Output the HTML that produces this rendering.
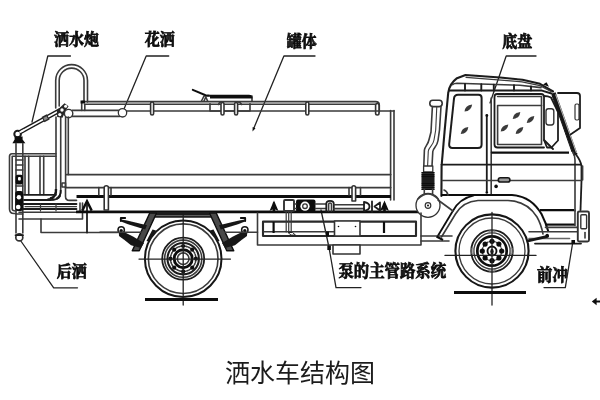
<!DOCTYPE html>
<html lang="zh">
<head>
<meta charset="utf-8">
<title>洒水车结构图</title>
<style>
html,body{margin:0;padding:0;background:#fff;}
body{width:600px;height:400px;overflow:hidden;position:relative;}
svg{position:absolute;left:0;top:0;display:block;}
.lbl{font-family:"Liberation Serif","Noto Serif CJK SC",serif;font-weight:bold;font-size:15px;fill:#111;stroke:#111;stroke-width:0.75px;transform-box:fill-box;transform-origin:50% 100%;transform:scaleY(1.08);}
.cap{font-family:"Liberation Sans","Noto Sans CJK SC",sans-serif;font-weight:400;font-size:25px;fill:#1a1a1a;}
.t{fill:none;stroke:#3a3a3a;stroke-width:1.6;stroke-linecap:round;stroke-linejoin:round;}
.m{fill:none;stroke:#1c1c1c;stroke-width:1.8;stroke-linecap:round;stroke-linejoin:round;}
.k{fill:none;stroke:#111;stroke-width:2.6;stroke-linecap:butt;stroke-linejoin:round;}
.w{fill:#fff;stroke:#333;stroke-width:1.6;stroke-linejoin:round;}
.b{fill:#111;stroke:none;}
.ld{fill:none;stroke:#222;stroke-width:1.3;stroke-linecap:round;stroke-linejoin:round;}
</style>
</head>
<body>
<svg width="600" height="400" viewBox="0 0 600 400">
<defs><filter id="soft" x="0" y="0" width="600" height="400" filterUnits="userSpaceOnUse"><feGaussianBlur stdDeviation="0.45"/></filter><filter id="soft2" x="0" y="0" width="600" height="400" filterUnits="userSpaceOnUse"><feGaussianBlur stdDeviation="0.3"/></filter></defs>
<rect x="0" y="0" width="600" height="400" fill="#fff"/>

<!-- ===== LABELS ===== -->
<g id="labels" filter="url(#soft2)">
<text class="lbl" x="54" y="45.4">洒水炮</text>
<text class="lbl" x="144.7" y="45.4">花洒</text>
<text class="lbl" x="286.8" y="47.3">罐体</text>
<text class="lbl" x="502.3" y="47.3">底盘</text>
<text class="lbl" x="56.8" y="277.3">后洒</text>
<text class="lbl" x="338.4" y="277.5" style="font-size:15.4px">泵的主管路系统</text>
<text class="lbl" x="537" y="281.2" style="font-size:15.4px;transform:scaleY(1.1)">前冲</text>
<text class="cap" x="225" y="382">洒水车结构图</text>
</g>

<!-- ===== LEADERS ===== -->
<g id="leaders" class="ld" filter="url(#soft)">
<path d="M70.5,56 H47.8 L32,122"/>
<path d="M168.7,56 H146.2 L124,109"/>
<path d="M315,56 H283.9 L253.5,129"/>
<path d="M536,56 H506.2 L490,103"/>
<path d="M20.5,240.5 L53.7,287.8 H77.5"/>
<path d="M321,210 L329,247.5 L336,287.6 H361"/>
<path d="M572.5,244 L565.3,287.6 H544"/>
<path d="M595,301.5 H600" style="stroke-width:2;stroke:#111"/><path d="M591.8,301.5 L596.6,297.8 V305.2 Z" style="fill:#111;stroke:none"/>
</g>
<path class="b" d="M252.5,131.5 l0.2,-4.5 l2.8,1.2 z"/>

<!-- TRUCK -->
<g id="truck" filter="url(#soft)">
<!-- ===== REAR EQUIPMENT ===== -->
<g id="rear">
<!-- U pipe -->
<path class="t" d="M55.7,108 V80.5 A15.9,15.9 0 0 1 87.5,80.5 V102"/>
<path class="t" d="M59.2,106 V80.5 A12.4,12.4 0 0 1 84,80.5 V102"/>
<!-- vertical pipe behind tank -->
<path class="t" d="M56,117 V190 Q56,199 48,199"/>
<path class="t" d="M60.7,117 V192 Q60.7,196 57,198"/>
<path d="M56,189 Q56.5,197.5 50,198.5" fill="none" stroke="#151515" stroke-width="2.4"/>
<path d="M60.7,190 Q61,196 56.5,199" fill="none" stroke="#151515" stroke-width="1.8"/>
<!-- cannon barrel -->
<path d="M18.5,133 L60.5,110" stroke="#1a1a1a" stroke-width="4.4" stroke-linecap="round" fill="none"/>
<path d="M20,132.2 L60,110.3" stroke="#fff" stroke-width="1.7" stroke-linecap="butt" fill="none"/>
<path d="M43,119.7 l5.2,-2.85" stroke="#2a2a2a" stroke-width="6" fill="none"/>
<path d="M44,119.2 l3.2,-1.75" stroke="#8a8a8a" stroke-width="2.8" fill="none"/>
<path d="M56.8,110.5 L64.5,103.2 L68.6,106.2 L66,110 L62.5,117.8 L57.2,117 Z" fill="#262626"/>
<circle cx="62" cy="110" r="1.7" fill="#fff"/>
<circle cx="59.8" cy="114.6" r="1.6" fill="#fff"/>
<circle cx="65.6" cy="106.2" r="1.5" fill="#fff"/>
<circle class="w" cx="68.6" cy="113.6" r="4.2" style="stroke-width:1.4"/>
<circle cx="17.6" cy="134" r="3.3" fill="#fff" stroke="#1a1a1a" stroke-width="2"/>
<path d="M19.5,132.5 L24,130" stroke="#fff" stroke-width="1.7" fill="none"/>
<!-- cone & post -->
<path class="b" d="M14.6,136.6 H22.6 V139.4 L25.4,143.3 H12.4 L14.6,139.4 Z"/>
<path class="t" d="M16,143.5 V233 M22.8,143.5 V233"/>
<circle class="w" cx="19.3" cy="237.4" r="3.5" style="stroke-width:1.7"/>
<path class="m" d="M15.6,235.2 H23"/>
<!-- fittings on post -->
<rect class="b" x="15.6" y="174.7" width="7.4" height="9.8" rx="2"/>
<rect x="18" y="177" width="2.8" height="3.4" rx="1" fill="#fff"/>
<rect class="b" x="15.2" y="191" width="8" height="20" rx="2.5"/>
<circle cx="18.9" cy="197.2" r="2.2" fill="#fff"/>
<circle cx="18.2" cy="207" r="2.3" fill="#fff"/>
<path class="t" d="M16,160 h6.8 M16,165 h6.8 M16,170 h6.8 M16,186 h6.8 M16,214 h6.8"/>
<!-- rail box -->
<path class="t" d="M56,153.7 H12 Q9.5,153.7 9.5,156.5 V209 Q9.5,213.5 14,213.5 H16"/>
<path class="t" d="M56,156.2 H12.2 V209 Q12.2,211 16,211"/>
<path class="t" d="M25,156.2 V194.5 M28.7,156.2 V194.5 M40,156.2 V194.5 M43.7,156.2 V194.5"/>
<!-- horizontal pipes -->
<path class="m" d="M24,194.8 H56 M24,200 H50 Q58,200 60,196"/>
<path class="m" d="M23,204 H76.5 M23,209 H76.5"/><path class="t" style="stroke-width:1.2" d="M25,206.6 H76.5 M40.5,204 V211 M56,204 V211"/>
<path class="t" d="M19,212.2 H80 V203 M19,219 H82.5 V203"/>
<path class="t" d="M41,219 V232.5 H117.5"/>
<!-- arrow -->
<path class="m" d="M87,232.5 V203"/>
<path d="M82.3,210.6 L87,201.2 L91.7,210.6" fill="none" stroke="#111" stroke-width="2.4" stroke-linejoin="miter"/>
</g>

<!-- ===== TANK ===== -->
<g id="tank">
<!-- top pipe -->
<path class="t" d="M82,101.6 H375.5 Q379.3,101.6 379.3,105 V112"/>
<rect class="w" x="375.6" y="103.5" width="3.4" height="11.5" rx="1.7"/>
<path class="t" d="M84.5,104.3 H375.6"/>
<path class="t" d="M81.7,110.5 V103.5 Q81.7,101.6 84,101.6 M84.8,104.6 V110.5"/>
<path class="b" d="M80.5,100.5 h4.5 v3 h-4.5z"/>
<!-- pipe joint to spray circle -->
<path class="t" d="M72,110.4 H118.5 M72,116.4 H119.5"/>
<!-- tank top line -->
<path class="t" d="M126.5,111 H394"/>
<circle class="w" cx="122.5" cy="112.8" r="4.2" style="stroke-width:1.3"/>
<!-- clips -->
<rect class="w" x="150.6" y="102" width="3" height="13" rx="1.5"/>
<rect class="w" x="305.8" y="102" width="3" height="13" rx="1.5"/>
<!-- left edge -->
<path class="t" d="M65.6,117 V187 M68.3,117 V174.6"/>
<!-- right edge -->
<path class="t" d="M390.6,110.6 V200 M394,110.6 V200"/>
<!-- bands -->
<path class="t" style="stroke-width:1.8" d="M66.5,174.6 H390.6"/>
<path class="t" style="stroke-width:1.8" d="M65.5,187.6 H390.6"/>
<path class="k" d="M76.5,196.6 H391" style="stroke-width:3"/>
<path class="t" d="M65.5,187 V196.5 Q65.5,200.4 69.5,200.4 H76.5"/>
<path class="t" d="M62,183 h3.5 v4 h-3.5z"/>
<path class="k" d="M76,211.9 H421" style="stroke-width:2.8"/>
<!-- steps / clamps -->
<path class="t" d="M98.8,187.6 V195 M111,187.6 V195"/>
<path class="w" d="M104.2,210 V187.5 Q104.2,185.8 106.3,185.8 Q108.4,185.8 108.4,187.5 V210 Z"/>
<path class="t" d="M349,187.6 V195 M360.5,187.6 V195"/>
<path class="w" d="M352,201 V187.5 Q352,185.8 353.8,185.8 Q355.6,185.8 355.6,187.5 V201 Z"/>
<!-- manhole -->
<path class="t" d="M210,103.8 V111 H250 V103.8"/>
<path class="t" d="M201.5,101 L204,96 H252 V101"/>
<path class="b" d="M210,94.8 H249 Q252.5,95 252.5,98.6 H210 Z"/>
<path d="M192.8,89.8 L205.5,95.2 L209,95.5" stroke="#111" stroke-width="2" fill="none" stroke-linecap="round"/>
<path class="t" d="M204,101 l1.8,-4 l1.8,4"/>
<rect class="w" x="221" y="102.5" width="3" height="12.5" rx="1.5"/>
<rect class="w" x="234.6" y="102.5" width="3" height="12.5" rx="1.5"/>
<path class="t" d="M218.5,104.5 q1,-3 3,-2.5 M238,102 q2.5,0 3.5,2.5"/>
</g>
<!-- ===== EXHAUST ===== -->
<g id="exhaust">
<rect class="w" x="429.8" y="100.2" width="12.4" height="6.4" rx="3" style="stroke-width:1.6"/>
<path class="t" d="M432.4,106.5 L431,132 L429.2,139 C428,145 425,146 424.4,150 L423.8,166"/>
<path class="t" d="M441,106.5 L439.5,130 L438,140.5 C437,147 433.5,147 432.8,151.5 L432,166"/>
<path class="t" style="stroke-width:1.1" d="M436.8,106.5 L435.7,130 L434,140 C433,146 429,147 428.3,151 L427.6,166"/>
<rect class="w" x="423.6" y="166" width="9.2" height="6" style="stroke-width:1.3"/>
<g stroke="#111" stroke-width="1.6" fill="none">
<path d="M421.6,172.8 h12.8 M421.6,174.9 h12.8 M421.6,176.9 h12.8 M421.6,179.0 h12.8 M421.6,181.0 h12.8 M421.6,183.1 h12.8 M421.6,185.1 h12.8 M421.6,187.2 h12.8 M421.6,189.2 h12.8"/>
<rect x="422.6" y="172" width="10.8" height="17.5" fill="#444" stroke="none"/>
<path d="M421.6,172.8 h12.8 M421.6,174.9 h12.8 M421.6,176.9 h12.8 M421.6,179.0 h12.8 M421.6,181.0 h12.8 M421.6,183.1 h12.8 M421.6,185.1 h12.8 M421.6,187.2 h12.8 M421.6,189.2 h12.8"/>
</g>
<path class="t" d="M424.3,189 V194 M432.6,189 V194"/>
<circle class="w" cx="428" cy="205.3" r="12" style="stroke-width:1.3"/>
<path class="t" d="M418,199 Q428,189 438,199"/>
<circle class="w" cx="428" cy="205.5" r="2.8" style="stroke-width:1.2"/>
<circle class="b" cx="428" cy="205.5" r="1"/>
</g>

<!-- ===== CAB ===== -->
<g id="cab">
<!-- back edge -->
<path class="m" style="stroke-width:2.1" d="M441.4,196 L441.6,166 L444.7,130 L448.2,93 Q449.3,84 457,78.2 L465.5,75 L500,77.5 L522.5,79.8 L540,83.8 L553,91.5"/>
<!-- roof lines -->
<path class="t" d="M466,77.3 L522,81.8 L540,85.6 L551,91.5" style="stroke-width:1.2"/>
<path class="t" d="M452.5,84.6 Q454,83.4 457,83.3 L520,85.2 L541,87.6"/>
<path class="m" d="M449,90.6 H542 L551.5,93.5" style="stroke-width:2"/>
<path class="m" d="M465,84 V90.5 M481.3,84.3 V90.5 M493.8,84.6 V90.5 M514,85.2 V90.5 M531,86.5 V90.5" style="stroke-width:1.9"/>
<path class="b" d="M543,84.5 l3.5,-2.2 l2.5,4.4 z"/>
<!-- rear window -->
<path class="m" style="stroke-width:2" d="M458,94.8 H478.5 Q481.6,94.8 481.6,98 V144.5 Q481.6,148 478,148 H452.5 Q448.8,148 449.2,144 L454,98.5 Q454.5,94.8 458,94.8 Z"/>
<!-- door line -->
<path class="m" d="M486.8,116 V192"/><path class="t" d="M491.2,152.6 V194"/><path class="t" d="M491.2,98 V152"/>
<circle class="b" cx="486.8" cy="115.5" r="1.4"/><circle class="b" cx="486.8" cy="192.5" r="1.3"/>
<!-- front window -->
<path class="m" d="M544,147.5 H497.5 Q494.5,147.5 494.5,144.5 V97 Q494.5,94 497,94 H541 Q544,94 544,97 V140 L553,149"/>
<path class="t" d="M497.6,105.5 H541.5 V144.5 H497.6 Z"/>
<path class="t" d="M497.6,96.5 H541.5 V105.5"/>
<!-- quarter panel -->
<path class="m" d="M544,96 Q548,96 551,97.5 L558,112 V140.5 L551.5,147.5 L547,147.5 L544,140"/>
<!-- small mirror -->
<rect class="w" x="546" y="108.8" width="7.8" height="16.2" rx="2.4" style="stroke-width:1.4"/>
<!-- pillar -->
<path d="M553.5,93 L575.5,155" stroke="#151515" stroke-width="4.4" fill="none"/>
<path d="M552,95 L572,152" stroke="#151515" stroke-width="1" fill="none"/>
<path d="M555.6,94.5 L576.5,153" stroke="#fff" stroke-width="0.7" fill="none"/>
<!-- big mirror -->
<path class="m" d="M558,93 H577 Q580,93 580,96 V128 L570.5,134.5"/>
<rect class="w" x="575" y="104" width="4" height="16" rx="1.5" style="stroke-width:1.2"/>
<!-- front -->
<path class="m" d="M575.5,154 Q580.5,160 581.5,166 V181 L580.5,210"/>
<path class="t" d="M573,152 Q575,156 575,160 V211"/>
<path class="t" d="M582.6,166 V180"/>
<!-- belt & body lines -->
<path class="k" d="M491.2,152.6 H569" style="stroke-width:2.1"/>
<path class="m" d="M441.5,164.6 H581"/>
<path class="t" d="M442.5,180.5 H581"/>
<!-- door handle -->
<rect x="498.3" y="177.8" width="11.6" height="4.2" rx="2.1" fill="#999" stroke="#151515" stroke-width="1.6"/>
<circle class="b" cx="496.1" cy="186.4" r="1.8"/>
<!-- cab bottom + fender -->
<path class="k" d="M441,195 H512 Q531,196 541.5,214 Q546,223 548.5,232" style="stroke-width:2"/>
<path class="k" d="M437.5,236.5 L452.5,211.5 Q459,198.5 474,195.3" style="stroke-width:1.8"/>
<path class="t" d="M441.5,237 L455.5,214 Q463,201.5 478,200.5 H508 Q527,201 537,217 Q541,224 543,234"/>
<path class="t" d="M438,200 L453,211"/>
<path class="t" d="M444,190 q3,1 4,5"/>
<!-- lower front body -->
<path class="k" d="M540,210.2 H574" style="stroke-width:2.2"/>
<path class="k" d="M545.5,224.6 H575" style="stroke-width:2.2"/>
<path class="t" d="M545.5,227.4 H577.5"/>
<path class="t" d="M575,210 V225.5"/>
<path class="t" d="M529,231.7 H577.5"/>
<path class="t" d="M529,238.5 H569.5" style="stroke:#666"/>
<path class="m" d="M535,243.6 H581"/>
<path d="M529,240.6 L547.5,236.4" stroke="#151515" stroke-width="3" stroke-linecap="round" fill="none"/>
<circle class="b" cx="547.2" cy="235.6" r="1.8"/>
<rect class="w" x="577.8" y="211.5" width="11.2" height="30" rx="1.5" style="stroke-width:1.9"/>
<rect class="w" x="580.8" y="214.8" width="5.8" height="14" rx="1" style="stroke-width:1.4"/>
<path class="t" d="M585,232.5 v5.5"/>
<path class="b" d="M571.4,240 h3.6 v4 h-3.6z"/>
<!-- leaf marks -->
<g fill="#3a3a3a">
<path d="M464.5,111.6 Q464.9,105.4 472.1,104.4 Q471.5,110.8 464.5,111.6 Z"/>
<path d="M460.7,134.1 Q461.1,127.9 468.3,126.9 Q467.7,133.3 460.7,134.1 Z"/>
<path d="M512.7,119.1 Q513.1,112.9 520.3,111.9 Q519.7,118.3 512.7,119.1 Z"/>
<path d="M526.7,123.1 Q527.1,116.9 534.3,115.9 Q533.7,122.3 526.7,123.1 Z"/>
<path d="M500.7,131.6 Q501.1,125.4 508.3,124.4 Q507.7,130.8 500.7,131.6 Z"/>
<path d="M515.7,134.1 Q516.1,127.9 523.3,126.9 Q522.7,133.3 515.7,134.1 Z"/>
</g>
</g>
<!-- ===== FRAME & PUMP ===== -->
<g id="frame">
<!-- rear frame lines left of wheel -->
<!-- mid frame rectangle -->
<path class="t" d="M257.5,213 V245 H421 V213"/>
<path class="m" style="stroke-width:2.1;stroke:#2a2a2a" d="M263,221.6 H416 V236 H263 Z"/>
<path class="t" d="M264,231.8 H334"/>
<path class="k" style="stroke-width:2.2" d="M273.6,222 V233 M384,222 V233"/>
<!-- pump row -->
<path class="m" d="M273.7,211 V203"/>
<path d="M274,200.6 L278.4,210.8 L275.2,209.6 V212 H272.8 V209.6 L269.6,210.8 Z" fill="#111"/>
<rect class="w" x="284" y="200" width="10" height="11" rx="1" style="stroke-width:1.9"/>
<rect class="b" x="296" y="199.5" width="19.5" height="12.5" rx="2"/>
<circle cx="305" cy="206.2" r="4.6" fill="#fff"/>
<circle class="w" cx="305" cy="206.2" r="2.3" style="stroke-width:1.3"/>
<path class="t" d="M294,204 h2 M294,208.5 h2 M315.5,204 h10.5 M315.5,208.5 h10.5"/>
<path class="m" d="M326.3,211 V204 Q326.3,200.8 330,200.8 Q333.8,200.8 333.8,204 V211"/>
<path class="t" d="M328.6,211 V204.5 Q328.6,203 330,203 Q331.5,203 331.5,204.5 V211"/>
<path class="t" d="M334,204.8 H364 M334,208.6 H364"/>
<!-- valve symbols -->
<path class="m" d="M364,202 V211 M364,202 Q369.5,203 369.5,206.5 Q369.5,210 364,211"/>
<path class="m" d="M372,201.5 V211.5"/>
<path class="m" d="M380,202.5 L374.5,206.5 L380,210.5 Z"/>
<path class="m" d="M384.5,211 V204"/>
<path d="M384.5,200.6 L388.9,210.8 L385.7,209.6 V212 H383.3 V209.6 L380.1,210.8 Z" fill="#111"/>
<!-- vertical pipe from box -->
<path class="t" style="stroke-width:1.2" d="M286.2,212 V232 M288.7,212 V232 M291.2,212 V232"/>
<path d="M288,232.5 l3,2.6 h4.5 l-3,-2.6z" fill="#fff" stroke="#222" stroke-width="1"/>
<!-- right box -->
<rect class="w" x="334.5" y="221" width="25.5" height="15" />
<circle class="b" cx="338.5" cy="226.5" r="0.8"/><circle class="b" cx="355.5" cy="226.5" r="0.8"/>
<rect class="w" x="333" y="245" width="27" height="9"/>
<path class="b" d="M327.3,245.5 h3.6 v4.5 h-3.6z"/>
<path class="b" d="M326,231.5 h3 v5 h-3z"/>
<!-- lines to front wheel -->
<path class="t" d="M421,236 H452 M421,241 H449"/>
<path class="k" d="M436.5,236.5 L443,240" style="stroke-width:2"/>
</g>
<!-- ===== SUSPENSION ===== -->
<g id="susp">
<path d="M150,212 H216 L218.5,217.8 H147.5 Z" fill="#1e1e1e"/>
<path d="M154,215.6 H212" stroke="#666" stroke-width="1" fill="none"/>
<path d="M149.8,213.0 L156.5,213.0 L139.2,250.8 L132.3,250.8 Z" fill="#4a4a4a" stroke="#111" stroke-width="1.5" stroke-linejoin="round"/>
<path d="M216.2,213.0 L209.5,213.0 L226.8,250.8 L233.7,250.8 Z" fill="#4a4a4a" stroke="#111" stroke-width="1.5" stroke-linejoin="round"/>
<path d="M121.0,219.6 L127.0,220.6 L147.0,225.2 L145.2,229.4 L128.0,224.3 L121.0,221.6 Z" fill="#151515"/>
<path d="M118.8,231.3 L123.0,231.6 L133.0,236.5 L144.0,243.0 L141.0,248.0 L131.0,245.2 L124.5,240.0 L119.0,236.0 Z" fill="#151515"/>
<path d="M152.5,229.5 L156.0,230.5 L149.5,242.0 L146.5,241.0 Z" fill="#151515"/>
<path class="k" style="stroke-width:1.8;stroke-linecap:round" d="M125.2,218.0 L120.8,218.0 L120.8,221.0"/>
<circle cx="121.2" cy="230.0" r="3.2" fill="#fff" stroke="#151515" stroke-width="1.5"/>
<circle class="b" cx="121.2" cy="230.8" r="1.7"/>
<path d="M245.0,219.6 L239.0,220.6 L219.0,225.2 L220.8,229.4 L238.0,224.3 L245.0,221.6 Z" fill="#151515"/>
<path d="M247.2,231.3 L243.0,231.6 L233.0,236.5 L222.0,243.0 L225.0,248.0 L235.0,245.2 L241.5,240.0 L247.0,236.0 Z" fill="#151515"/>
<path d="M213.5,229.5 L210.0,230.5 L216.5,242.0 L219.5,241.0 Z" fill="#151515"/>
<path class="k" style="stroke-width:1.8;stroke-linecap:round" d="M240.8,218.0 L245.2,218.0 L245.2,221.0"/>
<circle cx="244.8" cy="230.0" r="3.2" fill="#fff" stroke="#151515" stroke-width="1.5"/>
<circle class="b" cx="244.8" cy="230.8" r="1.7"/>
<path class="t" d="M100,232.2 H141.5 M224.7,232.2 H257.5"/>
</g>
<!-- rear wheel -->
<g>
<circle cx="183.2" cy="258.7" r="38.3" fill="#fff" stroke="#151515" stroke-width="2"/>
<circle class="t" cx="183.2" cy="258.7" r="34.8"/>
<circle class="m" cx="183.2" cy="258.7" r="21"/>
<circle class="t" cx="183.2" cy="258.7" r="18.6"/>
<circle class="m" cx="183.2" cy="258.7" r="15.7" style="stroke-width:2.1"/>
<circle class="t" cx="183.2" cy="258.7" r="12.7" stroke-dasharray="1.2 1.3"/>
<circle class="b" cx="183.2" cy="271.4" r="2.1"/>
<circle class="b" cx="174.2" cy="267.7" r="2.1"/>
<circle class="b" cx="170.5" cy="258.7" r="2.1"/>
<circle class="b" cx="174.2" cy="249.7" r="2.1"/>
<circle class="b" cx="183.2" cy="246.0" r="2.1"/>
<circle class="b" cx="192.2" cy="249.7" r="2.1"/>
<circle class="b" cx="195.9" cy="258.7" r="2.1"/>
<circle class="b" cx="192.2" cy="267.7" r="2.1"/>
<circle class="k" cx="183.2" cy="258.7" r="9" style="stroke-width:2.9"/>
<circle class="t" cx="183.2" cy="258.7" r="5.8"/>
<path class="ld" d="M139,259.09999999999997 H230.5 M183.2,215 V305"/>
</g>
<path class="k" d="M145,299.5 H218" style="stroke-width:3.2"/>
<!-- front wheel -->
<g>
<circle cx="492" cy="251" r="36.6" fill="#fff" stroke="#151515" stroke-width="2.1"/>
<circle class="t" cx="492" cy="251" r="33" style="stroke-width:1.3"/>
<circle class="m" cx="492" cy="251" r="20.8"/>
<circle class="t" cx="492" cy="251" r="18.1" style="stroke-width:1.3"/>
<circle class="k" cx="492" cy="251" r="14.7" style="stroke-width:2.7"/>
<circle class="t" cx="492" cy="251" r="9.7" stroke-dasharray="1.3 1.2" style="stroke-width:1.2"/>
<circle class="b" cx="492.0" cy="260.7" r="2.6"/>
<circle class="b" cx="485.1" cy="257.9" r="2.6"/>
<circle class="b" cx="482.3" cy="251.0" r="2.6"/>
<circle class="b" cx="485.1" cy="244.1" r="2.6"/>
<circle class="b" cx="492.0" cy="241.3" r="2.6"/>
<circle class="b" cx="498.9" cy="244.1" r="2.6"/>
<circle class="b" cx="501.7" cy="251.0" r="2.6"/>
<circle class="b" cx="498.9" cy="257.9" r="2.6"/>
<circle class="k" cx="492" cy="251" r="4.5" style="stroke-width:1.9"/>
<ellipse class="b" cx="492" cy="251.5" rx="1.7" ry="2.7"/>
<rect x="489" y="230.6" width="6" height="2" fill="#aaa" stroke="#555" stroke-width="0.5"/>
<rect x="489" y="269.4" width="6" height="2" fill="#aaa" stroke="#555" stroke-width="0.5"/>
<rect x="471.6" y="248" width="2" height="6" fill="#aaa" stroke="#555" stroke-width="0.5"/>
<rect x="510.4" y="248" width="2" height="6" fill="#aaa" stroke="#555" stroke-width="0.5"/>
<path class="ld" d="M445,255.4 H536 M492,212.5 V305"/>
</g>
<path class="k" d="M454,292.5 H526" style="stroke-width:3.2"/>



</g>
</svg>
</body>
</html>
